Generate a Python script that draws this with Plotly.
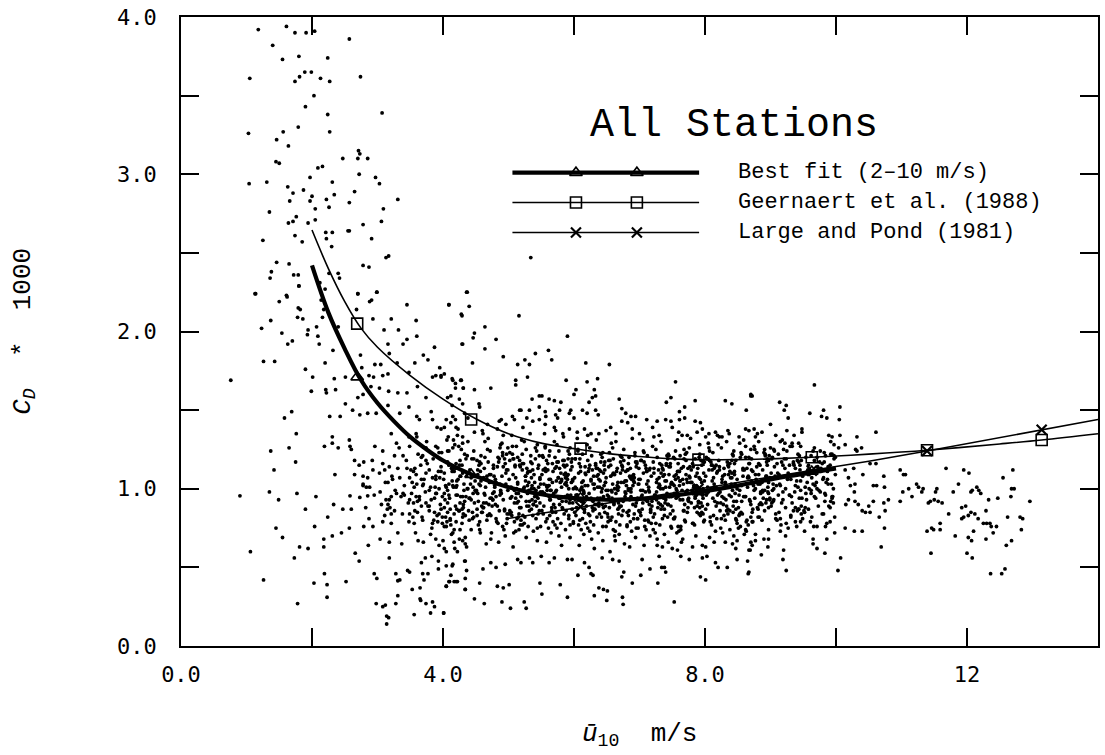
import plotly.graph_objects as go

# ---------------- curves ----------------
fit_u = [2.0, 2.25, 2.5, 2.75, 3.0, 3.25, 3.5, 3.75, 4.0, 4.5, 5.0, 5.5, 6.0, 6.5, 7.0, 7.5, 8.0, 8.5, 9.0, 9.5, 10.0]
fit_cd = [2.42, 2.12, 1.89, 1.69, 1.545, 1.43, 1.33, 1.25, 1.18, 1.08, 1.01, 0.965, 0.94, 0.93, 0.935, 0.955, 0.985, 1.02, 1.06, 1.095, 1.13]
fit_mark_u = [2.69, 4.43, 6.1, 7.9, 9.63]
fit_mark_cd = [1.71, 1.09, 0.94, 0.98, 1.11]

gee_u = [2.0, 2.25, 2.5, 2.75, 3.0, 3.5, 4.0, 4.5, 5.0, 5.5, 6.0, 6.5, 7.0, 7.5, 8.0, 8.5, 9.0, 9.63, 10.5, 11.39, 12.5, 13.14, 14.0]
gee_cd = [2.645, 2.40, 2.19, 2.02, 1.90, 1.72, 1.57, 1.445, 1.35, 1.29, 1.255, 1.225, 1.205, 1.19, 1.185, 1.185, 1.19, 1.20, 1.22, 1.245, 1.285, 1.31, 1.35]
gee_mark_u = [2.69, 4.43, 6.1, 7.9, 9.63, 11.39, 13.14]
gee_mark_cd = [2.05, 1.44, 1.255, 1.185, 1.20, 1.245, 1.31]

lp_u = [4.98, 6.0, 7.0, 8.0, 9.0, 9.63, 10.5, 11.39, 12.5, 13.14, 14.0]
lp_cd = [0.81, 0.875, 0.94, 1.005, 1.075, 1.115, 1.175, 1.24, 1.325, 1.375, 1.44]
lp_mark_u = [6.1, 7.9, 9.63, 11.39, 13.14]
lp_mark_cd = [0.885, 1.0, 1.115, 1.24, 1.375]

# ---------------- scattered observations (read / estimated) ----------------
pts_upper_left = [
    (1.18,3.92),(1.61,3.94),(1.74,3.90),(1.91,3.90),(2.04,3.91),(2.57,3.86),(1.40,3.82),(1.55,3.73),
    (1.80,3.75),(2.24,3.74),(1.05,3.61),(1.74,3.59),(1.81,3.62),(1.89,3.65),(1.99,3.65),(2.13,3.61),
    (2.27,3.59),(2.74,3.62),(2.03,3.50),(1.90,3.43),(2.24,3.38),(3.07,3.39),(1.03,3.26),(1.56,3.27),
    (1.79,3.30),(2.27,3.27),(1.46,3.22),(1.64,3.18),(2.47,3.10),(2.70,3.10),(2.73,3.13),(2.71,3.15),
    (2.85,3.10),(1.45,3.08),(1.50,3.07),(2.09,3.04),(2.16,3.05),(2.72,3.00),(2.97,2.98),(3.03,2.94),
    (1.04,2.94),(1.31,2.95),(1.97,2.98),(2.31,2.95),(1.63,2.92),(1.71,2.88),(1.87,2.90),(2.00,2.86),
    (2.22,2.84),(2.34,2.87),(2.57,2.82),(2.65,2.89),(1.66,2.83),(1.97,2.83),(2.26,2.79),(3.31,2.84),
    (1.35,2.76),(2.05,2.78),(3.09,2.78),(1.64,2.69),(1.71,2.70),(1.76,2.73),(1.94,2.69),(2.05,2.71),
    (2.55,2.64),(2.57,2.64),(2.78,2.68),(3.06,2.70),(2.21,2.63),(2.31,2.63),(2.22,2.59),(1.74,2.61),
    (1.85,2.57),(1.25,2.58),(2.30,2.54),(2.91,2.59),(3.13,2.47),(3.17,2.48),(1.46,2.44),(1.65,2.43),
    (1.38,2.38),(1.36,2.34),(1.72,2.36),(1.79,2.36),(2.26,2.37),(2.40,2.37),(2.42,2.34),(2.78,2.42),
    (2.87,2.41),(1.80,2.29),(1.13,2.24),(1.61,2.23),(2.70,2.24),(2.99,2.25),
]

pts_left_mid = [
    (1.14,2.24),(1.80,2.29),(1.62,2.22),(1.50,2.19),(1.79,2.15),(1.82,2.14),(1.78,2.09),(1.86,2.08),
    (1.37,2.07),(1.23,2.02),(1.54,1.99),(1.63,1.92),(1.70,1.94),(1.94,2.01),(1.93,1.98),(2.09,1.97),
    (2.07,2.03),(2.16,2.09),(2.18,2.14),(2.14,2.20),(2.20,2.27),(2.12,2.31),(2.70,2.24),(2.99,2.25),
    (2.88,2.19),(2.91,2.20),(2.68,2.14),(2.40,2.03),(2.93,2.08),(3.21,2.08),(3.45,2.17),(3.59,2.07),
    (4.09,2.17),(4.28,2.11),(4.37,2.25),(3.10,2.01),(3.32,2.01),(3.60,1.97),(3.45,1.95),(3.16,1.92),
    (3.39,1.92),(3.87,1.90),(4.30,1.92),(2.11,1.92),(2.32,1.88),(2.74,1.85),(3.18,1.86),(2.96,1.79),
    (3.05,1.79),(3.30,1.80),(3.57,1.80),(3.70,1.85),(3.77,1.82),(3.95,1.77),(1.26,1.81),(1.43,1.81),
    (2.20,1.80),(1.90,1.76),(2.01,1.71),(2.34,1.70),(2.51,1.71),(2.76,1.77),(2.87,1.72),(2.94,1.71),
    (3.08,1.72),(3.16,1.73),(3.48,1.74),(3.84,1.71),(3.89,1.72),(3.97,1.72),(4.14,1.70),(4.27,1.69),
    (0.76,1.69),(1.99,1.62),(2.21,1.63),(2.22,1.61),(2.36,1.63),(2.51,1.54),(2.70,1.58),(2.78,1.60),
    (2.90,1.65),(3.03,1.64),(3.17,1.62),(3.31,1.61),(3.45,1.61),(3.61,1.65),(3.74,1.58),(4.07,1.58),
    (4.19,1.64),(4.31,1.64),(4.14,1.53),(4.30,1.54),(2.62,1.50),(2.73,1.47),(2.85,1.48),(2.98,1.48),
    (2.43,1.46),(2.27,1.46),(1.58,1.45),(1.69,1.49),(3.16,1.53),(3.34,1.48),(3.48,1.52),(3.60,1.46),
    (3.64,1.44),(3.82,1.49),(3.84,1.44),(3.91,1.39),(4.05,1.44),(3.97,1.38),(4.20,1.39),(4.22,1.34),
    (4.16,1.31),(4.30,1.33),(1.76,1.35),(2.19,1.27),(2.31,1.33),(2.31,1.29),(2.40,1.26),(2.57,1.31),
    (2.58,1.27),(2.60,1.25),(2.96,1.27),(3.08,1.24),(3.21,1.35),(3.29,1.29),(3.33,1.26),(3.48,1.33),
    (3.59,1.35),(3.60,1.33),(3.49,1.27),(3.39,1.21),(3.69,1.21),(3.74,1.18),(3.89,1.27),(3.94,1.23),
    (4.07,1.24),(4.15,1.26),(4.30,1.29),(1.37,1.24),(1.65,1.26),(1.75,1.17),(1.42,1.12),(2.65,1.18),
    (2.72,1.15),(2.79,1.17),(2.92,1.18),(2.35,1.09),(2.65,1.09),(2.78,1.08),(2.85,1.07),(2.93,1.12),
    (3.03,1.10),(3.11,1.12),(3.18,1.14),(3.23,1.06),(3.34,1.07),(3.45,1.13),(3.51,1.12),(3.59,1.09),
    (3.67,1.06),(3.74,1.10),(3.89,1.06),(3.97,1.11),(4.09,1.15),(4.15,1.13),(4.21,1.02),(4.27,1.08),
    (2.78,1.02),(2.88,1.01),
]

pts_left_low = [
    (0.90,0.955),(1.35,0.98),(1.49,0.93),(1.77,0.97),(2.06,0.95),(1.90,0.87),(2.33,0.90),(2.24,0.82),
    (2.47,0.87),(2.60,0.87),(2.58,0.955),(2.73,0.945),(2.85,0.955),(2.95,0.96),(2.82,0.88),(2.87,0.81),
    (2.04,0.76),(1.45,0.75),(1.55,0.69),(2.31,0.70),(2.45,0.72),(2.57,0.75),(2.79,0.76),(2.93,0.76),
    (2.18,0.68),(1.06,0.60),(1.81,0.63),(1.94,0.62),(2.18,0.63),(1.73,0.56),(2.66,0.59),(2.72,0.54),
    (2.86,0.64),(3.04,0.68),(3.18,0.66),(3.18,0.56),(3.37,0.65),(1.26,0.42),(2.03,0.40),(2.23,0.39),
    (2.19,0.46),(2.52,0.41),(2.23,0.31),(1.78,0.27),(2.95,0.46),(2.99,0.43),(3.28,0.46),(3.31,0.415),
    (3.34,0.42),(3.46,0.48),(3.49,0.47),(3.53,0.36),(3.31,0.32),(3.28,0.27),(2.98,0.27),(3.08,0.25),
    (3.12,0.26),(3.14,0.19),(3.17,0.18),(3.14,0.14),(3.56,0.20),(3.65,0.30),(3.66,0.29),(3.74,0.27),
    (3.84,0.28),(3.87,0.25),(3.81,0.21),(4.01,0.21),(3.65,0.37),(3.71,0.42),(3.69,0.46),(3.77,0.46),
    (3.67,0.53),(3.73,0.56),(3.83,0.57),(3.93,0.54),(3.93,0.49),(4.05,0.38),(4.09,0.41),(4.17,0.41),
    (4.22,0.41),(4.14,0.51),(4.34,0.36),(4.34,0.43),(4.36,0.48),(4.33,0.54),(4.05,0.60),(4.22,0.60),
    (3.62,0.67),(3.70,0.66),(3.81,0.71),(3.89,0.68),(4.00,0.67),(3.94,0.64),(4.02,0.62),(4.25,0.68),
    (4.30,0.67),(4.34,0.65),(4.17,0.74),(3.31,0.72),(3.08,0.79),(3.21,0.78),(3.48,0.79),(3.56,0.78),
    (3.11,0.83),(3.21,0.84),(3.06,0.90),(3.19,0.88),(3.26,0.86),(3.29,0.97),(3.39,0.97),(3.49,0.84),
    (3.54,0.82),(3.41,0.96),(3.49,0.93),(3.59,0.95),(3.61,0.92),(3.67,0.89),(3.74,0.91),(3.79,0.86),
    (3.87,0.85),(3.94,0.84),(3.99,0.82),(4.07,0.85),(3.84,0.78),(3.92,0.79),(4.02,0.76),(4.12,0.77),
    (4.17,0.84),(4.25,0.86),(4.30,0.82),(3.56,1.01),(3.69,1.02),(3.79,0.99),(3.89,0.97),(3.99,0.95),
    (4.10,0.94),(4.20,0.96),(4.30,0.95),(4.20,1.01),(4.32,1.03),(2.78,1.03),(2.83,1.01),(3.16,1.04),
    (3.13,0.93),(3.16,0.90),(3.21,0.95),
]

pts_mid_upper = [
    (5.34,2.47),(4.36,2.25),(4.40,2.16),(4.09,2.17),(4.29,2.10),(5.16,2.10),(4.64,2.03),(4.48,1.99),
    (4.46,1.96),(4.81,1.95),(4.29,1.92),(4.64,1.89),(5.90,1.97),(4.92,1.84),(4.45,1.80),(5.41,1.86),
    (5.61,1.88),(5.66,1.82),(5.25,1.82),(5.32,1.79),(5.14,1.79),(6.18,1.80),(6.54,1.79),(5.29,1.71),
    (5.11,1.69),(5.11,1.66),(5.88,1.69),(6.20,1.68),(6.36,1.70),(3.97,1.71),(4.02,1.73),(4.15,1.69),
    (4.19,1.67),(4.28,1.69),(4.31,1.64),(4.48,1.63),(4.73,1.64),(6.03,1.63),(6.00,1.60),(6.31,1.63),
    (6.28,1.58),(7.55,1.68),(7.85,1.56),(7.48,1.58),(7.41,1.55),(8.31,1.56),(8.41,1.54),(8.70,1.59),
    (8.63,1.50),(7.69,1.52),(7.61,1.49),(6.69,1.57),(4.12,1.59),(4.25,1.57),(5.36,1.57),(5.47,1.59),
    (5.51,1.59),(5.62,1.57),(5.70,1.56),(5.80,1.55),(6.23,1.55),(6.33,1.59),(5.32,1.50),(5.19,1.50),
    (5.47,1.52),(5.56,1.49),(5.57,1.46),(5.72,1.47),(5.75,1.45),(5.78,1.50),(5.93,1.48),(5.95,1.50),
    (6.00,1.45),(6.13,1.50),(6.20,1.48),(6.33,1.50),(6.37,1.47),(6.73,1.51),(6.79,1.48),(6.87,1.46),
    (6.94,1.46),(7.11,1.44),(7.27,1.43),(7.40,1.44),(7.48,1.43),(7.61,1.44),(7.69,1.45),(7.85,1.43),
    (7.93,1.42),(7.96,1.38),(8.06,1.35),(8.16,1.36),(8.26,1.33),(8.35,1.37),(8.62,1.38),(8.67,1.37),
    (8.75,1.38),(4.02,1.39),(4.15,1.46),(4.19,1.44),(4.33,1.48),(4.38,1.45),(4.56,1.52),(4.55,1.54),
    (4.89,1.44),(4.86,1.43),(4.96,1.41),(5.06,1.46),(5.09,1.44),(5.17,1.50),(5.28,1.45),(5.37,1.43),
    (5.47,1.44),(5.56,1.41),(5.70,1.39),(5.83,1.35),(5.93,1.38),(6.05,1.36),(6.16,1.38),(6.26,1.35),
    (6.38,1.35),(6.49,1.37),(6.56,1.39),(6.64,1.35),(6.73,1.43),(6.82,1.42),(6.89,1.38),(7.00,1.35),
    (7.20,1.39),(7.30,1.34),(7.50,1.39),(7.60,1.36),(7.73,1.34),(7.88,1.36),(8.01,1.33),(8.19,1.34),
    (8.37,1.35),(8.52,1.33),(8.80,1.35),
]

pts_mid_low = [
    (4.01,0.21),(4.05,0.38),(4.10,0.41),(4.20,0.41),(4.12,0.45),(4.34,0.36),(4.48,0.30),(4.63,0.27),
    (4.56,0.40),(4.83,0.38),(4.92,0.37),(5.01,0.39),(4.90,0.28),(5.03,0.24),(5.24,0.28),(5.27,0.24),
    (5.48,0.40),(5.51,0.33),(5.79,0.39),(5.90,0.31),(6.31,0.32),(6.38,0.37),(6.45,0.36),(6.51,0.35),
    (6.50,0.29),(6.74,0.31),(6.75,0.265),(6.06,0.45),(6.26,0.46),(6.29,0.45),(6.73,0.44),(6.76,0.47),
    (6.89,0.40),(7.02,0.45),(7.28,0.40),(7.53,0.28),(7.40,0.47),(7.34,0.50),(7.38,0.50),(7.16,0.49),
    (7.93,0.44),(8.01,0.42),(8.20,0.50),(8.34,0.50),(8.66,0.46),(8.65,0.54),(8.49,0.55),(8.16,0.53),
    (7.96,0.56),(8.03,0.57),(4.05,0.51),(4.15,0.52),(4.34,0.54),(4.61,0.49),(4.73,0.53),(4.81,0.50),
    (4.95,0.52),(5.14,0.55),(5.19,0.53),(5.32,0.56),(5.37,0.53),(5.62,0.53),(5.70,0.56),(5.50,0.57),
    (5.90,0.55),(5.97,0.55),(6.16,0.53),(6.23,0.50),(6.43,0.56),(6.59,0.55),(6.69,0.54),(7.04,0.55),
    (7.30,0.57),(7.63,0.57),(7.76,0.55),(7.50,0.62),(7.58,0.61),(7.27,0.64),(7.35,0.63),(7.81,0.63),
    (7.96,0.64),(8.01,0.63),(8.14,0.66),(8.31,0.66),(8.42,0.65),(8.49,0.67),(8.47,0.62),(8.69,0.61),
    (8.72,0.64),(8.77,0.71),(8.62,0.74),
]

pts_right = [
    (10.14,1.12),(10.27,1.13),(10.52,1.16),(10.61,1.16),(10.41,1.09),(10.19,1.07),(10.22,1.02),(10.29,1.03),
    (10.28,0.98),(10.57,1.02),(10.62,1.02),(10.73,1.08),(10.74,1.01),(10.98,1.12),(11.03,1.09),(11.06,1.09),
    (11.23,1.03),(11.26,1.01),(11.33,1.00),(11.31,0.98),(11.11,1.00),(11.02,0.98),(11.16,0.95),(10.98,0.92),
    (10.80,0.93),(10.73,0.91),(10.57,0.92),(10.50,0.89),(10.40,0.86),(10.45,0.85),(10.52,0.85),(10.19,0.93),
    (10.29,0.92),(10.15,0.90),(10.34,0.90),(10.75,0.86),(10.66,0.82),(10.74,0.75),(10.28,0.73),(10.40,0.73),
    (10.14,0.75),(10.69,0.63),(10.07,0.56),(10.03,0.48),(11.68,1.13),(11.95,1.12),(12.03,1.10),(11.87,1.03),
    (11.54,1.00),(11.52,0.98),(11.44,0.92),(11.50,0.93),(11.56,0.92),(11.62,0.91),(11.41,0.91),(11.79,0.98),
    (12.06,0.98),(12.08,0.99),(12.15,1.01),(12.18,0.99),(12.21,0.97),(12.33,0.93),(12.47,0.94),(12.55,1.07),
    (12.70,1.12),(12.68,1.00),(12.72,1.00),(12.67,0.95),(12.96,0.92),(11.72,0.84),(11.92,0.88),(11.98,0.89),
    (11.92,0.81),(11.95,0.82),(12.02,0.83),(12.06,0.85),(12.12,0.84),(12.17,0.81),(12.29,0.86),(12.25,0.78),
    (12.30,0.78),(12.35,0.78),(12.37,0.76),(12.45,0.76),(12.40,0.72),(12.10,0.73),(12.02,0.69),(12.07,0.67),
    (11.82,0.70),(11.59,0.78),(11.46,0.75),(11.39,0.73),(11.49,0.74),(11.59,0.74),(12.62,0.82),(12.81,0.82),
    (12.85,0.81),(12.83,0.74),(12.68,0.67),(12.60,0.64),(12.29,0.68),(11.45,0.59),(12.00,0.59),(12.08,0.56),
    (12.36,0.46),(12.53,0.46),(12.58,0.49),
    (8.67,0.61),(8.86,0.58),(9.19,0.55),(9.20,0.61),(9.24,0.48),(8.96,0.63),(8.67,0.47),(9.65,0.68),
    (9.65,0.65),(9.71,0.62),(9.83,0.59),(9.86,0.68),(9.98,0.72),(9.52,0.73),(9.23,0.70),(9.15,0.73),
    (8.97,0.68),(8.77,0.67),(8.90,0.68),(8.70,0.66),(8.97,0.74),(9.40,0.76),(9.46,0.79),(9.84,0.76),
    (9.71,0.76),
    (9.67,1.66),(8.70,1.60),(8.72,1.59),(9.14,1.55),(9.24,1.53),(9.21,1.50),(9.27,1.45),(9.60,1.48),
    (9.81,1.50),(9.86,1.45),(9.78,1.46),(10.06,1.52),(10.05,1.44),(10.61,1.36),(9.00,1.41),(9.25,1.37),
    (9.36,1.34),(9.48,1.36),(9.48,1.38),(8.87,1.36),(8.77,1.33),(8.82,1.30),(9.08,1.34),(9.18,1.31),
    (9.15,1.30),(9.33,1.29),(9.30,1.27),(9.43,1.29),(9.46,1.27),(9.89,1.34),(9.94,1.33),(10.06,1.34),
    (9.92,1.30),(10.14,1.28),(10.32,1.33),(10.30,1.25),(10.32,1.24),(10.04,1.26),(9.94,1.22),(10.39,1.26),
    (9.84,1.21),(9.00,1.26),(9.05,1.25),(8.90,1.23),(8.70,1.25),(8.75,1.27),
]

# dense core, estimated column by column (u, CD) -- first pass
core_30 = [(3.04,0.98),(3.12,1.04),(3.18,0.93),(3.22,1.08),(3.27,0.99),(3.31,1.13),(3.36,0.95),(3.41,1.02),
           (3.44,1.18),(3.47,0.91),(3.08,1.16),(3.15,0.87),(3.26,1.21),(3.38,0.84),(3.49,1.07)]
core_35 = [(3.52,0.97),(3.55,1.11),(3.57,0.86),(3.60,1.03),(3.62,1.22),(3.64,0.93),(3.66,1.15),(3.69,0.80),
           (3.71,1.06),(3.73,0.98),(3.75,1.30),(3.77,0.89),(3.79,1.12),(3.81,1.01),(3.83,0.75),(3.85,1.19),
           (3.87,0.94),(3.89,1.08),(3.91,0.83),(3.92,1.26),(3.94,1.00),(3.96,0.90),(3.97,1.14),(3.99,0.78),(3.58,0.72)]
core_40 = [(4.21,1.05),(4.02,0.88),(4.37,1.21),(4.15,0.72),(4.46,0.97),(4.08,1.33),(4.30,1.10),(4.11,0.81),
           (4.43,0.93),(4.24,1.27),(4.04,1.02),(4.17,0.66),(4.39,0.86),(4.20,1.16),(4.32,0.99),(4.23,1.38),
           (4.05,0.76),(4.26,1.08),(4.48,0.91),(4.09,1.24),(4.31,0.84),(4.42,1.03),(4.34,0.69),(4.13,1.13),
           (4.27,0.95),(4.38,1.30),(4.40,0.80),(4.01,1.06),(4.19,0.89),(4.44,1.19),(4.26,0.74),(4.07,0.99),
           (4.48,1.36),(4.29,0.87),(4.12,1.42),(4.18,0.62),(4.35,1.19),(4.36,0.63),(4.47,1.24),(4.06,0.79)]
core_45 = [(4.71,1.09),(4.52,0.83),(4.88,1.28),(4.64,0.96),(4.95,0.70),(4.56,1.17),(4.79,1.02),(4.61,0.88),
           (4.83,1.38),(4.97,0.78),(4.53,1.12),(4.74,0.94),(4.91,1.23),(4.66,0.65),(4.58,1.05),(4.86,0.86),
           (4.69,1.32),(4.51,0.99),(4.93,0.74),(4.77,1.15),(4.62,0.91),(4.99,1.26),(4.55,1.03),(4.81,0.81),
           (4.68,1.41),(4.89,0.97),(4.73,0.68),(4.96,1.10),(4.59,0.89),(4.84,1.20),(4.65,1.01),(4.54,0.77),
           (4.92,1.34),(4.76,0.93),(4.63,1.13),(4.98,0.84),(4.80,1.06),(4.57,0.72),(4.72,1.24),(4.87,0.96),
           (4.60,1.37),(4.94,0.87),(4.67,1.08),(4.82,0.79),(4.52,1.18),(4.78,0.98),(4.90,1.29),(4.70,0.90),
           (4.85,0.66),(4.57,1.11)]
core_50 = [(5.03,0.94),(5.21,1.12),(5.37,0.83),(5.12,1.27),(5.46,1.01),(5.08,0.72),(5.29,0.97),(5.41,1.19),
           (5.17,0.88),(5.33,1.35),(5.01,1.06),(5.24,0.78),(5.48,0.91),(5.14,1.03),(5.39,1.09),(5.06,1.22),
           (5.27,0.69),(5.44,1.28),(5.19,0.95),(5.35,0.87),(5.10,1.15),(5.31,1.04),(5.49,0.76),(5.22,1.39),
           (5.04,0.85),(5.42,0.99),(5.16,0.74),(5.36,1.16),(5.26,1.08),(5.09,0.99),(5.45,1.13),(5.13,0.81),
           (5.32,0.92),(5.20,1.31),(5.47,0.86),(5.02,1.18),(5.38,0.73),(5.23,1.00),(5.11,1.07),(5.43,1.24),
           (5.28,0.89),(5.07,0.63),(5.34,1.21),(5.18,1.14),(5.40,0.95),(5.25,0.82),(5.05,1.34),(5.30,1.11),
           (5.15,0.92),(5.44,0.67),(5.36,1.02),(5.21,0.77),(5.48,1.06),(5.12,0.97),(5.27,1.25)]
core_55 = [(5.52,0.98),(5.71,1.13),(5.88,0.86),(5.63,1.24),(5.96,1.04),(5.57,0.79),(5.79,0.94),(5.91,1.19),
           (5.66,0.88),(5.84,1.33),(5.51,1.09),(5.74,0.75),(5.98,0.91),(5.61,1.02),(5.89,1.08),(5.56,1.27),
           (5.77,0.70),(5.94,1.26),(5.69,0.97),(5.85,0.84),(5.60,1.16),(5.81,1.05),(5.99,0.78),(5.72,1.37),
           (5.54,0.89),(5.92,1.00),(5.65,0.72),(5.86,1.14),(5.76,1.07),(5.59,1.01),(5.95,1.12),(5.63,0.83),
           (5.82,0.92),(5.70,1.30),(5.97,0.87),(5.53,1.20),(5.87,0.74),(5.73,0.99),(5.62,1.06),(5.93,1.22),
           (5.78,0.90),(5.58,0.66),(5.83,1.18),(5.68,1.11),(5.90,0.96),(5.75,0.81),(5.55,1.35),(5.80,1.10),
           (5.64,0.93),(5.94,0.69),(5.86,1.03),(5.71,0.77),(5.98,1.06),(5.62,0.95),(5.77,1.24),(5.67,1.04),
           (5.89,1.15),(5.53,0.84),(5.81,0.64),(5.74,1.17)]
core_60 = [(6.03,0.96),(6.22,1.11),(6.39,0.84),(6.13,1.22),(6.46,1.02),(6.07,0.77),(6.29,0.92),(6.41,1.17),
           (6.16,0.87),(6.34,1.31),(6.01,1.07),(6.24,0.73),(6.48,0.89),(6.11,1.00),(6.38,1.06),(6.06,1.25),
           (6.27,0.68),(6.44,1.23),(6.19,0.95),(6.35,0.82),(6.10,1.14),(6.31,1.03),(6.49,0.76),(6.21,1.34),
           (6.04,0.88),(6.42,0.98),(6.15,0.71),(6.36,1.13),(6.26,1.05),(6.09,0.99),(6.45,1.10),(6.13,0.81),
           (6.32,0.90),(6.20,1.28),(6.47,0.85),(6.02,1.19),(6.37,0.72),(6.23,0.97),(6.12,1.04),(6.43,1.20),
           (6.28,0.88),(6.08,0.64),(6.33,1.16),(6.18,1.09),(6.40,0.94),(6.25,0.79),(6.05,1.32),(6.30,1.08),
           (6.14,0.91),(6.44,0.67),(6.36,1.01),(6.21,0.75),(6.48,1.04),(6.12,0.93),(6.27,1.21),(6.17,1.02),
           (6.39,1.12),(6.03,0.83),(6.31,0.62),(6.24,1.15)]
core_65 = [(6.58,0.94),(6.91,1.09),(6.52,0.82),(6.84,1.20),(6.66,1.00),(6.95,0.75),(6.61,0.90),(6.73,1.15),
           (6.99,0.86),(6.57,1.29),(6.80,1.05),(6.69,0.71),(6.54,0.88),(6.87,0.98),(6.76,1.04),(6.93,1.23),
           (6.63,0.67),(6.71,1.21),(6.97,0.93),(6.55,0.80),(6.82,1.12),(6.68,1.01),(6.60,0.74),(6.89,1.32),
           (6.75,0.86),(6.51,0.96),(6.94,0.69),(6.65,1.11),(6.98,1.03),(6.79,0.97),(6.56,1.08),(6.86,0.79),
           (6.72,0.89),(6.59,1.26),(6.83,0.83),(6.96,1.17),(6.62,0.70),(6.78,0.95),(6.90,1.02),(6.53,1.18),
           (6.67,0.87),(6.85,0.63),(6.74,1.14),(6.92,1.07),(6.57,0.92),(6.81,0.77),(6.64,1.30),(6.99,1.06),
           (6.70,0.89),(6.77,0.65),(6.52,0.99),(6.88,0.73),(6.66,1.02),(6.95,0.91),(6.60,1.19),(6.83,1.00),
           (6.71,1.10),(6.97,0.81),(6.55,0.60),(6.86,1.13)]
core_70 = [(7.03,0.95),(7.22,1.10),(7.38,0.83),(7.12,1.21),(7.46,1.01),(7.08,0.76),(7.29,0.91),(7.41,1.16),
           (7.17,0.87),(7.33,1.30),(7.01,1.06),(7.24,0.72),(7.48,0.89),(7.14,0.99),(7.39,1.05),(7.06,1.24),
           (7.27,0.68),(7.44,1.22),(7.19,0.94),(7.35,0.81),(7.10,1.13),(7.31,1.02),(7.49,0.75),(7.22,1.33),
           (7.04,0.87),(7.42,0.97),(7.16,0.70),(7.36,1.12),(7.26,1.04),(7.09,0.98),(7.45,1.09),(7.13,0.80),
           (7.32,0.90),(7.20,1.27),(7.47,0.84),(7.02,1.18),(7.38,0.71),(7.23,0.96),(7.11,1.03),(7.43,1.19),
           (7.28,0.88),(7.07,0.64),(7.34,1.15),(7.18,1.08),(7.40,0.93),(7.25,0.78),(7.05,1.31),(7.30,1.07),
           (7.15,0.90),(7.44,0.66),(7.36,1.00),(7.21,0.74),(7.48,1.03),(7.12,0.92),(7.27,1.20)]
core_75 = [(7.87,0.96),(7.61,1.11),(7.95,0.85),(7.70,1.22),(7.53,1.02),(7.82,0.78),(7.66,0.93),(7.99,1.17),
           (7.74,0.88),(7.58,1.31),(7.91,1.07),(7.63,0.74),(7.79,0.91),(7.97,1.00),(7.55,1.06),(7.68,1.25),
           (7.86,0.70),(7.72,1.23),(7.59,0.95),(7.93,0.83),(7.77,1.14),(7.51,1.03),(7.84,0.77),(7.65,1.34),
           (7.96,0.89),(7.71,0.98),(7.57,0.72),(7.89,1.13),(7.62,1.05),(7.80,0.99),(7.98,1.10),(7.54,0.82),
           (7.75,0.92),(7.92,1.28),(7.67,0.86),(7.85,1.19),(7.60,0.73),(7.94,0.97),(7.73,1.04),(7.52,1.20),
           (7.88,0.89),(7.64,0.66),(7.81,1.16),(7.56,1.09),(7.97,0.94),(7.69,0.80),(7.78,1.32),(7.53,1.08),
           (7.90,0.91),(7.66,0.68),(7.83,1.01),(7.59,0.76),(7.95,1.04),(7.74,0.93),(7.62,1.21)]
core_80 = [(8.03,0.97),(8.22,1.12),(8.38,0.86),(8.12,1.23),(8.46,1.03),(8.08,0.79),(8.29,0.94),(8.41,1.18),
           (8.17,0.89),(8.33,1.30),(8.01,1.08),(8.24,0.75),(8.48,0.92),(8.14,1.01),(8.39,1.07),(8.06,1.26),
           (8.27,0.72),(8.44,1.24),(8.19,0.96),(8.35,0.84),(8.10,1.15),(8.31,1.04),(8.49,0.78),(8.22,1.33),
           (8.04,0.90),(8.42,0.99),(8.16,0.73),(8.36,1.14),(8.26,1.06),(8.09,1.00),(8.45,1.11),(8.13,0.83),
           (8.32,0.93),(8.20,1.28),(8.47,0.87),(8.02,1.20),(8.38,0.74),(8.23,0.98),(8.11,1.05),(8.43,1.21),
           (8.28,0.90),(8.07,0.69),(8.34,1.17),(8.18,1.10),(8.40,0.95),(8.25,0.81),(8.05,1.29),(8.30,1.09),
           (8.15,0.92),(8.44,0.70)]
core_85 = [(8.87,0.80),(8.61,0.95),(8.95,1.19),(8.70,0.90),(8.53,1.29),(8.82,1.09),(8.66,0.77),(8.99,0.93),
           (8.74,1.02),(8.58,1.08),(8.91,1.25),(8.63,0.73),(8.79,1.23),(8.97,0.97),(8.55,0.85),(8.68,1.16),
           (8.86,1.05),(8.72,0.79),(8.59,1.31),(8.93,0.91),(8.77,1.00),(8.51,0.75),(8.84,1.15),(8.65,1.07),
           (8.96,1.01),(8.71,1.12),(8.57,0.84),(8.89,0.94),(8.62,1.27),(8.80,0.88),(8.98,1.21),(8.54,0.76),
           (8.75,0.99),(8.92,1.06),(8.67,1.20),(8.85,0.91),(8.60,0.71),(8.94,1.17),(8.73,1.11),(8.52,0.96),
           (8.88,0.98),(8.64,1.13),(8.81,0.87),(8.56,1.22),(8.97,1.04)]
core_90 = [(9.03,0.99),(9.22,1.13),(9.38,0.88),(9.12,1.22),(9.46,1.05),(9.08,0.81),(9.29,0.96),(9.41,1.18),
           (9.17,0.91),(9.33,1.27),(9.01,1.10),(9.24,0.78),(9.48,0.94),(9.14,1.03),(9.39,1.09),(9.06,1.24),
           (9.27,0.75),(9.44,1.21),(9.19,0.98),(9.35,0.86),(9.10,1.16),(9.31,1.06),(9.49,0.81),(9.22,1.29),
           (9.04,0.92),(9.42,1.01),(9.16,0.77),(9.36,1.15),(9.26,1.08),(9.09,1.02),(9.45,1.12),(9.13,0.85),
           (9.32,0.95),(9.20,1.25),(9.47,0.89),(9.02,1.19),(9.38,0.79),(9.23,1.00),(9.11,1.07),(9.43,1.17)]
core_95 = [(9.87,1.11),(9.61,0.79),(9.95,0.95),(9.70,1.04),(9.53,1.10),(9.82,1.23),(9.66,0.76),(9.99,1.20),
           (9.74,0.99),(9.58,0.87),(9.91,1.15),(9.63,1.07),(9.79,0.84),(9.97,1.28),(9.55,0.93),(9.68,1.02),
           (9.86,0.78),(9.72,1.14),(9.59,1.09),(9.93,1.03),(9.77,1.13),(9.51,0.86),(9.84,0.96),(9.65,1.24),
           (9.96,0.91),(9.71,1.00),(9.57,1.12),(9.89,0.89),(9.62,1.21),(9.80,1.06),(9.98,0.82),(9.54,0.97),
           (9.75,1.17),(9.92,0.92),(9.67,1.26)]

# dense core -- second pass (the band 0.75-1.25 is nearly solid in the picture)
core2_35 = [(3.53,1.04),(3.82,0.93),(3.67,1.20),(3.95,1.07),(3.61,0.85),(3.76,1.16),(3.90,0.97),(3.57,1.13),
            (3.86,0.80),(3.70,1.03),(3.98,1.23),(3.64,0.95),(3.79,0.89),(3.93,1.11),(3.55,0.91),(3.74,1.26),
            (3.88,1.01),(3.68,0.82),(3.84,1.07),(3.97,0.87)]
core2_40 = [(4.03,0.93),(4.41,1.12),(4.16,1.01),(4.29,0.78),(4.07,1.17),(4.45,0.85),(4.22,0.96),(4.33,1.22),
            (4.11,0.87),(4.49,1.05),(4.18,1.28),(4.26,0.91),(4.04,0.82),(4.37,1.00),(4.14,1.11),(4.43,0.74),
            (4.25,1.15),(4.09,1.03),(4.31,0.88),(4.47,1.19),(4.20,0.79),(4.36,1.08),(4.02,0.97),(4.28,1.25),
            (4.13,0.71),(4.40,0.94),(4.23,1.06),(4.06,1.31),(4.34,0.83),(4.46,1.01)]
core2_45 = [(4.54,0.92),(4.83,1.14),(4.67,0.80),(4.96,1.03),(4.58,1.21),(4.75,0.89),(4.91,0.76),(4.62,1.07),
            (4.87,1.26),(4.51,0.98),(4.79,1.01),(4.69,1.17),(4.94,0.86),(4.56,0.74),(4.81,0.95),(4.64,1.30),
            (4.99,1.12),(4.73,0.83),(4.53,1.09),(4.88,0.99),(4.66,0.91),(4.97,1.22),(4.60,0.85),(4.77,1.13),
            (4.92,0.93),(4.55,1.15),(4.84,0.78),(4.71,1.04),(4.98,0.81),(4.63,0.97),(4.86,1.19),(4.57,1.02),
            (4.74,0.72),(4.90,1.08),(4.68,1.25),(4.52,0.87),(4.80,0.90),(4.95,1.16),(4.61,1.35),(4.76,0.97)]
core2_50 = [(5.04,1.01),(5.32,0.86),(5.17,1.18),(5.45,0.94),(5.09,0.79),(5.26,1.05),(5.41,1.26),(5.13,0.91),
            (5.37,1.12),(5.02,1.23),(5.22,0.83),(5.48,1.07),(5.15,0.97),(5.30,0.76),(5.43,0.89),(5.07,1.09),
            (5.24,1.30),(5.39,1.00),(5.11,0.73),(5.34,1.17),(5.47,1.21),(5.19,0.88),(5.05,0.95),(5.28,1.13),
            (5.42,0.81),(5.14,1.04),(5.36,0.93),(5.01,0.84),(5.21,1.22),(5.46,1.15),(5.10,1.14),(5.31,0.99),
            (5.18,0.77),(5.40,1.04),(5.06,1.27),(5.27,0.92),(5.44,0.75),(5.12,1.00),(5.35,1.07),(5.23,1.16),
            (5.49,0.98),(5.16,0.84),(5.38,0.90),(5.08,1.19),(5.29,1.02)]
core2_55 = [(5.54,1.03),(5.82,0.88),(5.67,1.16),(5.95,0.96),(5.59,0.81),(5.76,1.07),(5.91,1.24),(5.63,0.93),
            (5.87,1.10),(5.52,1.21),(5.72,0.85),(5.98,1.05),(5.65,0.99),(5.80,0.78),(5.93,0.91),(5.57,1.11),
            (5.74,1.28),(5.89,1.02),(5.61,0.75),(5.84,1.15),(5.97,1.19),(5.69,0.90),(5.55,0.97),(5.78,1.13),
            (5.92,0.83),(5.64,1.06),(5.86,0.95),(5.51,0.86),(5.71,1.20),(5.96,1.17),(5.60,1.12),(5.81,1.01),
            (5.68,0.79),(5.90,1.06),(5.56,1.26),(5.77,0.94),(5.94,0.77),(5.62,1.02),(5.85,1.09),(5.73,1.14),
            (5.99,1.00),(5.66,0.86),(5.88,0.92),(5.58,1.18),(5.79,1.04)]
core2_60 = [(6.04,1.00),(6.32,0.87),(6.17,1.14),(6.45,0.95),(6.09,0.80),(6.26,1.06),(6.41,1.22),(6.13,0.92),
            (6.37,1.09),(6.02,1.19),(6.22,0.84),(6.48,1.04),(6.15,0.98),(6.30,0.77),(6.43,0.90),(6.07,1.10),
            (6.24,1.26),(6.39,1.01),(6.11,0.74),(6.34,1.13),(6.47,1.17),(6.19,0.89),(6.05,0.96),(6.28,1.12),
            (6.42,0.82),(6.14,1.05),(6.36,0.94),(6.01,0.85),(6.21,1.18),(6.46,1.15),(6.10,1.11),(6.31,1.00),
            (6.18,0.78),(6.40,1.05),(6.06,1.24),(6.27,0.93),(6.44,0.76),(6.12,1.01),(6.35,1.08),(6.23,1.13),
            (6.49,0.99),(6.16,0.85),(6.38,0.91),(6.08,1.16),(6.29,1.03)]
core2_65 = [(6.57,0.99),(6.84,0.86),(6.66,1.13),(6.97,0.94),(6.52,0.79),(6.78,1.05),(6.93,1.21),(6.61,0.91),
            (6.89,1.08),(6.55,1.18),(6.73,0.83),(6.99,1.03),(6.64,0.97),(6.81,0.76),(6.94,0.89),(6.59,1.09),
            (6.76,1.25),(6.87,1.00),(6.63,0.73),(6.82,1.12),(6.96,1.16),(6.69,0.88),(6.53,0.95),(6.79,1.11),
            (6.91,0.81),(6.67,1.04),(6.85,0.93),(6.51,0.84),(6.71,1.17),(6.95,1.14),(6.60,1.10),(6.83,0.99),
            (6.70,0.77),(6.92,1.04),(6.54,1.23),(6.75,0.92),(6.98,0.75),(6.62,1.00),(6.86,1.07),(6.74,1.12),
            (6.58,0.98),(6.68,0.84),(6.90,0.90),(6.56,1.15),(6.80,1.02)]
core2_70 = [(7.05,0.99),(7.33,0.87),(7.16,1.13),(7.46,0.95),(7.08,0.80),(7.27,1.06),(7.42,1.21),(7.12,0.92),
            (7.38,1.09),(7.03,1.18),(7.23,0.84),(7.49,1.04),(7.15,0.98),(7.31,0.77),(7.44,0.90),(7.06,1.10),
            (7.25,1.25),(7.40,1.01),(7.10,0.74),(7.35,1.13),(7.47,1.16),(7.19,0.89),(7.04,0.96),(7.29,1.12),
            (7.43,0.82),(7.13,1.05),(7.37,0.94),(7.01,0.85),(7.21,1.17),(7.45,1.14),(7.11,1.11),(7.32,1.00),
            (7.18,0.78),(7.41,1.05),(7.07,1.23),(7.26,0.93),(7.48,0.76),(7.14,1.01),(7.36,1.08),(7.22,1.13),
            (7.02,0.99),(7.17,0.85),(7.39,0.91),(7.09,1.15),(7.30,1.03)]
core2_75 = [(7.56,1.00),(7.84,0.88),(7.67,1.14),(7.96,0.96),(7.52,0.81),(7.77,1.07),(7.92,1.22),(7.62,0.93),
            (7.88,1.10),(7.54,1.19),(7.73,0.85),(7.99,1.05),(7.65,0.99),(7.81,0.78),(7.94,0.91),(7.58,1.11),
            (7.76,1.26),(7.87,1.02),(7.63,0.76),(7.82,1.14),(7.97,1.17),(7.69,0.90),(7.53,0.97),(7.79,1.12),
            (7.91,0.84),(7.66,1.06),(7.85,0.95),(7.51,0.86),(7.71,1.18),(7.95,1.15),(7.60,1.11),(7.83,1.01),
            (7.70,0.79),(7.93,1.06),(7.55,1.24),(7.75,0.94),(7.98,0.79),(7.61,1.02),(7.86,1.08),(7.74,1.13),
            (7.57,0.99),(7.68,0.86),(7.90,0.92),(7.59,1.16),(7.80,1.04)]
core2_80 = [(8.04,1.01),(8.33,0.89),(8.17,1.15),(8.46,0.97),(8.08,0.82),(8.27,1.08),(8.42,1.22),(8.12,0.94),
            (8.38,1.11),(8.03,1.19),(8.23,0.86),(8.49,1.06),(8.15,1.00),(8.31,0.80),(8.44,0.92),(8.06,1.12),
            (8.25,1.26),(8.40,1.03),(8.10,0.77),(8.35,1.15),(8.47,1.18),(8.19,0.91),(8.05,0.98),(8.29,1.13),
            (8.43,0.85),(8.13,1.07),(8.37,0.96),(8.01,0.87),(8.21,1.18),(8.45,1.16),(8.11,1.12),(8.32,1.02),
            (8.18,0.81),(8.41,1.07),(8.07,1.24),(8.26,0.95),(8.48,0.80),(8.14,1.03),(8.36,1.09),(8.22,1.14)]
core2_85 = [(8.56,1.02),(8.83,0.90),(8.67,1.16),(8.96,0.98),(8.52,0.83),(8.77,1.09),(8.92,1.22),(8.62,0.95),
            (8.88,1.12),(8.54,1.20),(8.73,0.87),(8.99,1.07),(8.65,1.01),(8.81,0.82),(8.94,0.93),(8.58,1.13),
            (8.76,1.25),(8.87,1.04),(8.63,0.79),(8.82,1.16),(8.97,1.18),(8.69,0.92),(8.53,0.99),(8.79,1.14),
            (8.91,0.86),(8.66,1.08),(8.85,0.97),(8.51,0.88),(8.71,1.19),(8.95,1.15),(8.60,1.12),(8.84,1.03),
            (8.70,0.82),(8.93,1.08),(8.55,1.23)]
core2_90 = [(9.04,1.03),(9.33,0.91),(9.17,1.17),(9.46,0.99),(9.08,0.84),(9.27,1.10),(9.42,1.22),(9.12,0.96),
            (9.38,1.13),(9.03,1.20),(9.23,0.88),(9.49,1.08),(9.15,1.02),(9.31,0.83),(9.44,0.94),(9.06,1.14),
            (9.25,1.24),(9.40,1.05),(9.10,0.80),(9.35,1.17),(9.47,1.18),(9.19,0.93),(9.05,1.00),(9.29,1.15),
            (9.43,0.87),(9.13,1.09),(9.37,0.98),(9.01,0.89),(9.21,1.19),(9.45,1.15)]
core2_95 = [(9.56,1.04),(9.83,0.92),(9.67,1.18),(9.96,1.00),(9.52,0.85),(9.77,1.11),(9.92,1.22),(9.62,0.97),
            (9.88,1.14),(9.54,1.20),(9.73,0.89),(9.99,1.09),(9.65,1.03),(9.81,0.84),(9.94,0.95),(9.58,1.15),
            (9.76,1.24),(9.87,1.06),(9.63,0.82),(9.82,1.17),(9.97,1.19),(9.69,0.94),(9.53,1.01),(9.79,1.16),
            (9.91,0.88)]

# dense core -- third pass (heart of the band)
core3_4 = [(4.07,0.91),(4.43,1.07),(4.71,0.84),(4.29,1.15),(4.88,0.98),(4.15,1.02),(4.56,0.79),(4.94,1.19),
           (4.35,0.95),(4.62,0.88),(4.02,1.10),(4.81,1.04),(4.47,0.82),(4.19,1.13),(4.76,0.93),(4.38,1.00),
           (4.91,1.21),(4.24,0.86),(4.67,1.06),(4.53,0.97),(4.11,0.80),(4.85,1.17),(4.31,0.90),(4.73,1.09),
           (4.05,1.01),(4.59,0.85),(4.97,1.12),(4.41,0.94),(4.26,1.18),(4.83,0.89),(4.14,1.05),(4.68,0.83),
           (4.49,0.99),(4.92,1.14),(4.33,0.92),(4.78,1.08),(4.21,0.87),(4.64,1.20),(4.09,0.96),(4.87,1.03),
           (4.45,0.81),(4.17,1.11),(4.72,0.94),(4.58,1.16),(4.99,0.99)]
core3_5 = [(5.07,1.19),(5.43,0.95),(5.71,0.88),(5.29,1.10),(5.88,1.04),(5.15,0.82),(5.56,1.13),(5.94,0.93),
           (5.35,1.00),(5.62,1.21),(5.02,0.86),(5.81,1.06),(5.47,0.97),(5.19,0.80),(5.76,1.17),(5.38,0.90),
           (5.91,1.09),(5.24,1.01),(5.67,0.85),(5.53,1.12),(5.11,0.94),(5.85,1.18),(5.31,0.89),(5.73,1.05),
           (5.05,0.83),(5.59,0.99),(5.97,1.14),(5.41,0.92),(5.26,1.08),(5.83,0.87),(5.14,1.20),(5.68,0.96),
           (5.49,1.03),(5.92,0.81),(5.33,1.11),(5.78,0.94),(5.21,1.16),(5.64,0.99),(5.09,0.91),(5.87,1.07),
           (5.45,0.84),(5.17,1.15),(5.72,0.98),(5.58,1.02),(5.99,0.79)]
core3_6 = [(6.07,0.93),(6.43,1.00),(6.71,1.21),(6.29,0.86),(6.88,1.06),(6.15,0.97),(6.56,0.80),(6.94,1.17),
           (6.35,0.90),(6.62,1.09),(6.02,1.01),(6.81,0.85),(6.47,1.12),(6.19,0.94),(6.76,1.18),(6.38,0.89),
           (6.91,1.05),(6.24,0.83),(6.67,0.99),(6.53,1.14),(6.11,0.92),(6.85,1.08),(6.31,0.87),(6.73,1.20),
           (6.05,0.96),(6.59,1.03),(6.97,0.81),(6.41,1.11),(6.26,0.94),(6.83,1.16),(6.14,0.99),(6.68,0.91),
           (6.49,1.07),(6.92,0.84),(6.33,1.15),(6.78,0.98),(6.21,1.02),(6.64,0.79),(6.09,1.19),(6.87,0.95),
           (6.45,0.88),(6.17,1.10),(6.72,1.04),(6.58,0.82),(6.99,1.13)]
core3_7 = [(7.07,1.17),(7.43,0.90),(7.71,1.09),(7.29,1.01),(7.88,0.85),(7.15,1.12),(7.56,0.94),(7.94,1.18),
           (7.35,0.89),(7.62,1.05),(7.02,0.83),(7.81,0.99),(7.47,1.14),(7.19,0.92),(7.76,1.08),(7.38,0.87),
           (7.91,1.20),(7.24,0.96),(7.67,1.03),(7.53,0.81),(7.11,1.11),(7.85,0.94),(7.31,1.16),(7.73,0.99),
           (7.05,0.91),(7.59,1.07),(7.97,0.84),(7.41,1.15),(7.26,0.98),(7.83,1.02),(7.14,0.79),(7.68,1.19),
           (7.49,0.95),(7.92,0.88),(7.33,1.10),(7.78,1.04),(7.21,0.82),(7.64,1.13),(7.09,0.93),(7.87,1.00),
           (7.45,1.21),(7.17,0.86),(7.72,1.06),(7.58,0.97),(7.99,0.80)]
core3_8 = [(8.07,1.18),(8.43,0.89),(8.71,1.05),(8.29,0.83),(8.88,0.99),(8.15,1.14),(8.56,0.92),(8.94,1.08),
           (8.35,0.87),(8.62,1.20),(8.02,0.96),(8.81,1.03),(8.47,0.81),(8.19,1.11),(8.76,0.94),(8.38,1.16),
           (8.91,0.99),(8.24,0.91),(8.67,1.07),(8.53,0.84),(8.11,1.15),(8.85,0.98),(8.31,1.02),(8.73,0.79),
           (8.05,1.19),(8.59,0.95),(8.97,0.88),(8.41,1.10),(8.26,1.04),(8.83,0.82),(8.14,1.13),(8.68,0.93),
           (8.49,1.00),(8.92,1.21),(8.33,0.86),(8.78,1.06),(8.21,0.97),(8.64,0.80),(8.09,1.17),(8.87,0.90),
           (8.45,1.09),(8.17,1.01),(8.72,0.85),(8.58,1.12),(8.99,0.94)]
core3_9 = [(9.07,1.08),(9.43,0.87),(9.71,1.20),(9.29,0.96),(9.88,1.03),(9.15,0.81),(9.56,1.11),(9.94,0.94),
           (9.35,1.16),(9.62,0.99),(9.02,0.91),(9.81,1.07),(9.47,0.84),(9.19,1.15),(9.76,0.98),(9.38,1.02),
           (9.91,0.79),(9.24,1.19),(9.67,0.95),(9.53,0.88),(9.11,1.10),(9.85,1.04),(9.31,0.82),(9.73,1.13),
           (9.05,0.93),(9.59,1.00),(9.97,1.21),(9.41,0.86),(9.26,1.06),(9.83,0.97)]

groups = [pts_upper_left, pts_left_mid, pts_left_low, pts_mid_upper, pts_mid_low, pts_right,
          core_30, core_35, core_40, core_45, core_50, core_55, core_60, core_65, core_70,
          core_75, core_80, core_85, core_90, core_95,
          core2_35, core2_40, core2_45, core2_50, core2_55, core2_60, core2_65, core2_70,
          core2_75, core2_80, core2_85, core2_90, core2_95,
          core3_4, core3_5, core3_6, core3_7, core3_8, core3_9]
obs_u = [p[0] for g in groups for p in g]
obs_cd = [p[1] for g in groups for p in g]

# legend sample geometry (in axis units) and labels
title_text = "All Stations"
legend_labels = ["Best fit (2–10 m/s)", "Geernaert et al. (1988)", "Large and Pond (1981)"]
legend_rows = [3.01, 2.82, 2.63]
legend_line_u = [5.06, 7.91]
legend_mark_u = [6.03, 6.96]

x_tickvals = [0, 4, 8, 12]
x_ticktext = ["0.0", "4.0", "8.0", "12"]
y_tickvals = [0, 1, 2, 3, 4]
y_ticktext = ["0.0", "1.0", "2.0", "3.0", "4.0"]

MONO = "Liberation Mono"
TICKF = "DejaVu Sans Mono"
fig = go.Figure()

fig.add_trace(go.Scatter(x=obs_u, y=obs_cd, mode="markers",
                         marker=dict(size=3.8, color="black", line=dict(width=0)),
                         showlegend=False, hoverinfo="skip"))

fig.add_trace(go.Scatter(x=gee_u, y=gee_cd, mode="lines", line=dict(color="black", width=1.6, shape="spline"),
                         showlegend=False))
fig.add_trace(go.Scatter(x=lp_u, y=lp_cd, mode="lines", line=dict(color="black", width=1.6),
                         showlegend=False))
fig.add_trace(go.Scatter(x=fit_u, y=fit_cd, mode="lines", line=dict(color="black", width=4.2, shape="spline"),
                         showlegend=False))

sq = dict(symbol="square-open", size=11, color="black", line=dict(width=1.6, color="black"))
tri = dict(symbol="triangle-up-open", size=11, color="black", line=dict(width=1.6, color="black"))
xm = dict(symbol="x-thin-open", size=10, color="black", line=dict(width=2.2, color="black"))

fig.add_trace(go.Scatter(x=gee_mark_u, y=gee_mark_cd, mode="markers", marker=sq, showlegend=False))
fig.add_trace(go.Scatter(x=lp_mark_u, y=lp_mark_cd, mode="markers", marker=xm, showlegend=False))
fig.add_trace(go.Scatter(x=fit_mark_u, y=fit_mark_cd, mode="markers", marker=tri, showlegend=False))

# hand-drawn style legend
widths = [4.2, 1.6, 1.6]
markers = [tri, sq, xm]
for row, w, mk, lab in zip(legend_rows, widths, markers, legend_labels):
    fig.add_trace(go.Scatter(x=legend_line_u, y=[row, row], mode="lines",
                             line=dict(color="black", width=w), showlegend=False, hoverinfo="skip"))
    fig.add_trace(go.Scatter(x=legend_mark_u, y=[row, row], mode="markers", marker=mk,
                             showlegend=False, hoverinfo="skip"))
    fig.add_annotation(x=8.47, y=row, text=lab, showarrow=False, xanchor="left", yanchor="middle",
                       font=dict(family=MONO, size=22, color="black"))

fig.add_annotation(x=8.45, y=3.31, text=title_text, showarrow=False, xanchor="center", yanchor="middle",
                   font=dict(family=MONO, size=40, color="black"))

# axis titles
fig.add_annotation(xref="paper", yref="paper", x=0.5, y=-0.142, yanchor="middle", xanchor="center",
                   text="<i>ū</i><sub>10</sub>  m/s", showarrow=False,
                   font=dict(family=MONO, size=26, color="black"))
fig.add_annotation(xref="paper", yref="paper", x=-0.172, y=0.5, textangle=-90, xanchor="center", yanchor="middle",
                   text="<i>C</i><sub><i>D</i></sub>  *  1000", showarrow=False,
                   font=dict(family=MONO, size=26, color="black"))

axis_common = dict(showline=True, linecolor="black", linewidth=1.6, mirror="ticks", ticks="inside",
                   ticklen=18, tickwidth=1.5, tickcolor="black", showgrid=False, zeroline=False,
                   tickfont=dict(family=TICKF, size=22, color="black"))
fig.update_xaxes(range=[0, 14], tickmode="array", tickvals=x_tickvals, ticktext=x_ticktext,
                 ticklabelstandoff=8,
                 minor=dict(tick0=0, dtick=2, ticks="inside", ticklen=18, tickwidth=1.5, tickcolor="black"),
                 **axis_common)
fig.update_yaxes(range=[0, 4], tickmode="array", tickvals=y_tickvals, ticktext=y_ticktext,
                 ticklabelstandoff=18,
                 minor=dict(tick0=0, dtick=0.5, ticks="inside", ticklen=18, tickwidth=1.5, tickcolor="black"),
                 **axis_common)

fig.update_layout(width=1105, height=755, margin=dict(l=181, r=5, t=17, b=109),
                  paper_bgcolor="white", plot_bgcolor="white", showlegend=False)

fig.write_html("out.html")
